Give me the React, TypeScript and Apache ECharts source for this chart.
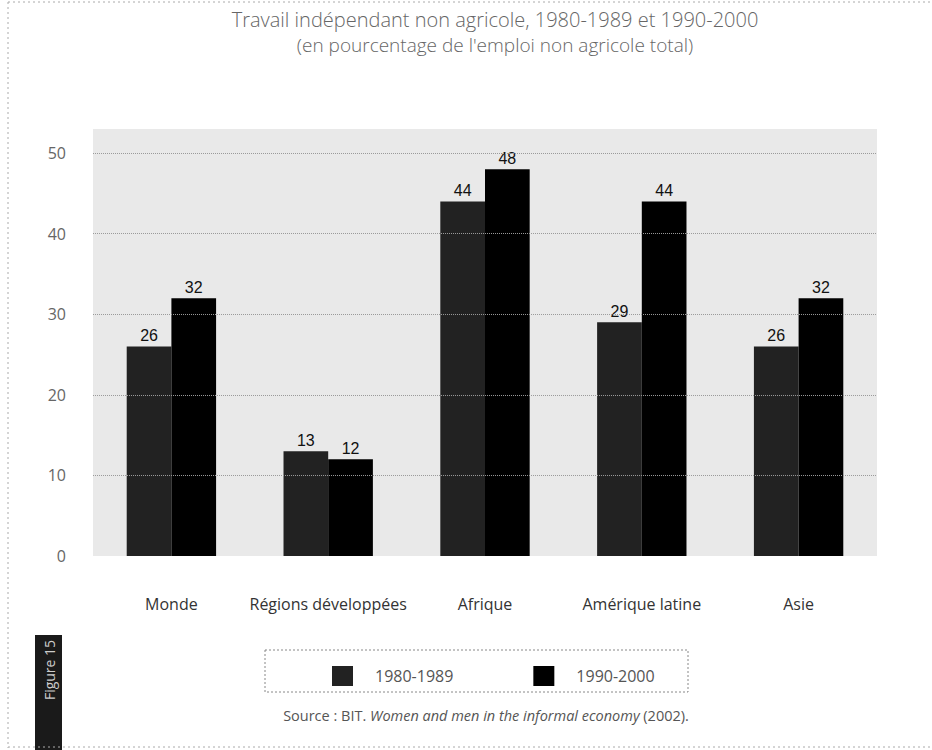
import React, { useEffect, useRef } from "react";
import * as echarts from "echarts";

const categories = ["Monde", "Régions développées", "Afrique", "Amérique latine", "Asie"];
const series1980 = [26, 13, 44, 29, 26];
const series1990 = [32, 12, 48, 44, 32];
const seriesNames = ["1980-1989", "1990-2000"];
const gridTicks = [10, 20, 30, 40, 50];

const FONT = "'Open Sans', 'DejaVu Sans', sans-serif";

export default function App() {
  const ref = useRef<HTMLDivElement>(null);
  useEffect(() => {
    if (!ref.current) return;
    const chart = echarts.init(ref.current, null, { renderer: "svg" });
    const labelStyle = {
      show: true,
      position: "top",
      distance: 3,
      fontSize: 16,
      color: "#111",
      fontFamily: "'Liberation Sans', Arial, sans-serif",
      fontWeight: 500,
    };
    chart.setOption({
      animation: false,
      backgroundColor: "#ffffff",
      title: {
        text: "Travail indépendant non agricole, 1980-1989 et 1990-2000",
        subtext: "(en pourcentage de l'emploi non agricole total)",
        left: 490,
        textAlign: "center",
        top: 3,
        itemGap: 4,
        textStyle: { fontSize: 20, lineHeight: 22, fontWeight: 300, color: "#666", fontFamily: FONT },
        subtextStyle: { fontSize: 19, lineHeight: 21, fontWeight: 300, color: "#666", fontFamily: FONT },
      },
      grid: {
        left: 93,
        right: 55,
        top: 129,
        bottom: 194,
        show: true,
        backgroundColor: "#e9e9e9",
        borderWidth: 0,
      },
      legend: {
        data: seriesNames,
        left: 327,
        top: 661,
        itemWidth: 21,
        itemHeight: 20,
        itemGap: 80,
        icon: "rect",
        textStyle: {
          fontSize: 16,
          color: "#555",
          fontFamily: FONT,
          padding: [0, 0, 0, 17],
        },
      },
      xAxis: {
        type: "category",
        data: categories,
        axisLine: { show: false },
        axisTick: { show: false },
        axisLabel: { interval: 0, margin: 40, fontSize: 16, color: "#333", fontFamily: FONT },
      },
      yAxis: {
        type: "value",
        min: 0,
        max: 53,
        interval: 10,
        splitLine: { show: false },
        axisLine: { show: false },
        axisTick: { show: false },
        axisLabel: {
          margin: 27,
          fontSize: 16,
          color: "#666",
          fontFamily: FONT,
          formatter: (v: number) => (v % 10 === 0 ? String(v) : ""),
        },
      },
      series: [
        {
          name: "gridlines",
          type: "line",
          data: [],
          z: 1,
          silent: true,
          markLine: {
            silent: true,
            symbol: ["none", "none"],
            label: { show: false },
            lineStyle: { color: "#9a9a9a", type: "dotted", width: 1 },
            data: gridTicks.map((t) => ({ yAxis: t })),
          },
        },
        {
          name: seriesNames[0],
          type: "bar",
          data: series1980,
          z: 3,
          barGap: "0%",
          barCategoryGap: "43%",
          itemStyle: { color: "#222222" },
          label: labelStyle,
        },
        {
          name: seriesNames[1],
          type: "bar",
          data: series1990,
          z: 3,
          itemStyle: { color: "#000000" },
          label: labelStyle,
        },
      ],
      graphic: [
        {
          type: "rect",
          shape: { x: 265, y: 650, width: 423, height: 42 },
          style: { fill: "none", stroke: "#888", lineWidth: 1, lineDash: [2, 2] },
        },
        {
          type: "text",
          x: 486,
          y: 715,
          style: {
            text: "{n|Source : BIT. }{i|Women and men in the informal economy}{n| (2002).}",
            align: "center",
            verticalAlign: "middle",
            rich: {
              n: { fontSize: 14.5, fill: "#555", fontFamily: FONT },
              i: { fontSize: 14.5, fill: "#555", fontFamily: FONT, fontStyle: "italic" },
            },
          },
        },
        {
          type: "rect",
          shape: { x: 35, y: 635, width: 27, height: 115 },
          style: { fill: "#1a1a1a" },
        },
        {
          type: "text",
          x: 49,
          y: 670,
          rotation: Math.PI / 2,
          style: {
            text: "Figure 15",
            align: "center",
            verticalAlign: "middle",
            fill: "#cccccc",
            fontSize: 14,
            fontFamily: FONT,
          },
        },
        {
          type: "line",
          shape: { x1: 8, y1: 2, x2: 8, y2: 748 },
          style: { stroke: "#aaa", lineWidth: 1, lineDash: [2, 3] },
        },
        {
          type: "line",
          shape: { x1: 8, y1: 2, x2: 932, y2: 2 },
          style: { stroke: "#aaa", lineWidth: 1, lineDash: [2, 3] },
        },
        {
          type: "line",
          shape: { x1: 8, y1: 747, x2: 932, y2: 747 },
          style: { stroke: "#aaa", lineWidth: 1, lineDash: [2, 3] },
        },
      ],
    });
    return () => chart.dispose();
  }, []);
  return (
    <div
      ref={ref}
      style={{ position: "fixed", left: 0, top: 0, width: 932, height: 750 }}
    />
  );
}
